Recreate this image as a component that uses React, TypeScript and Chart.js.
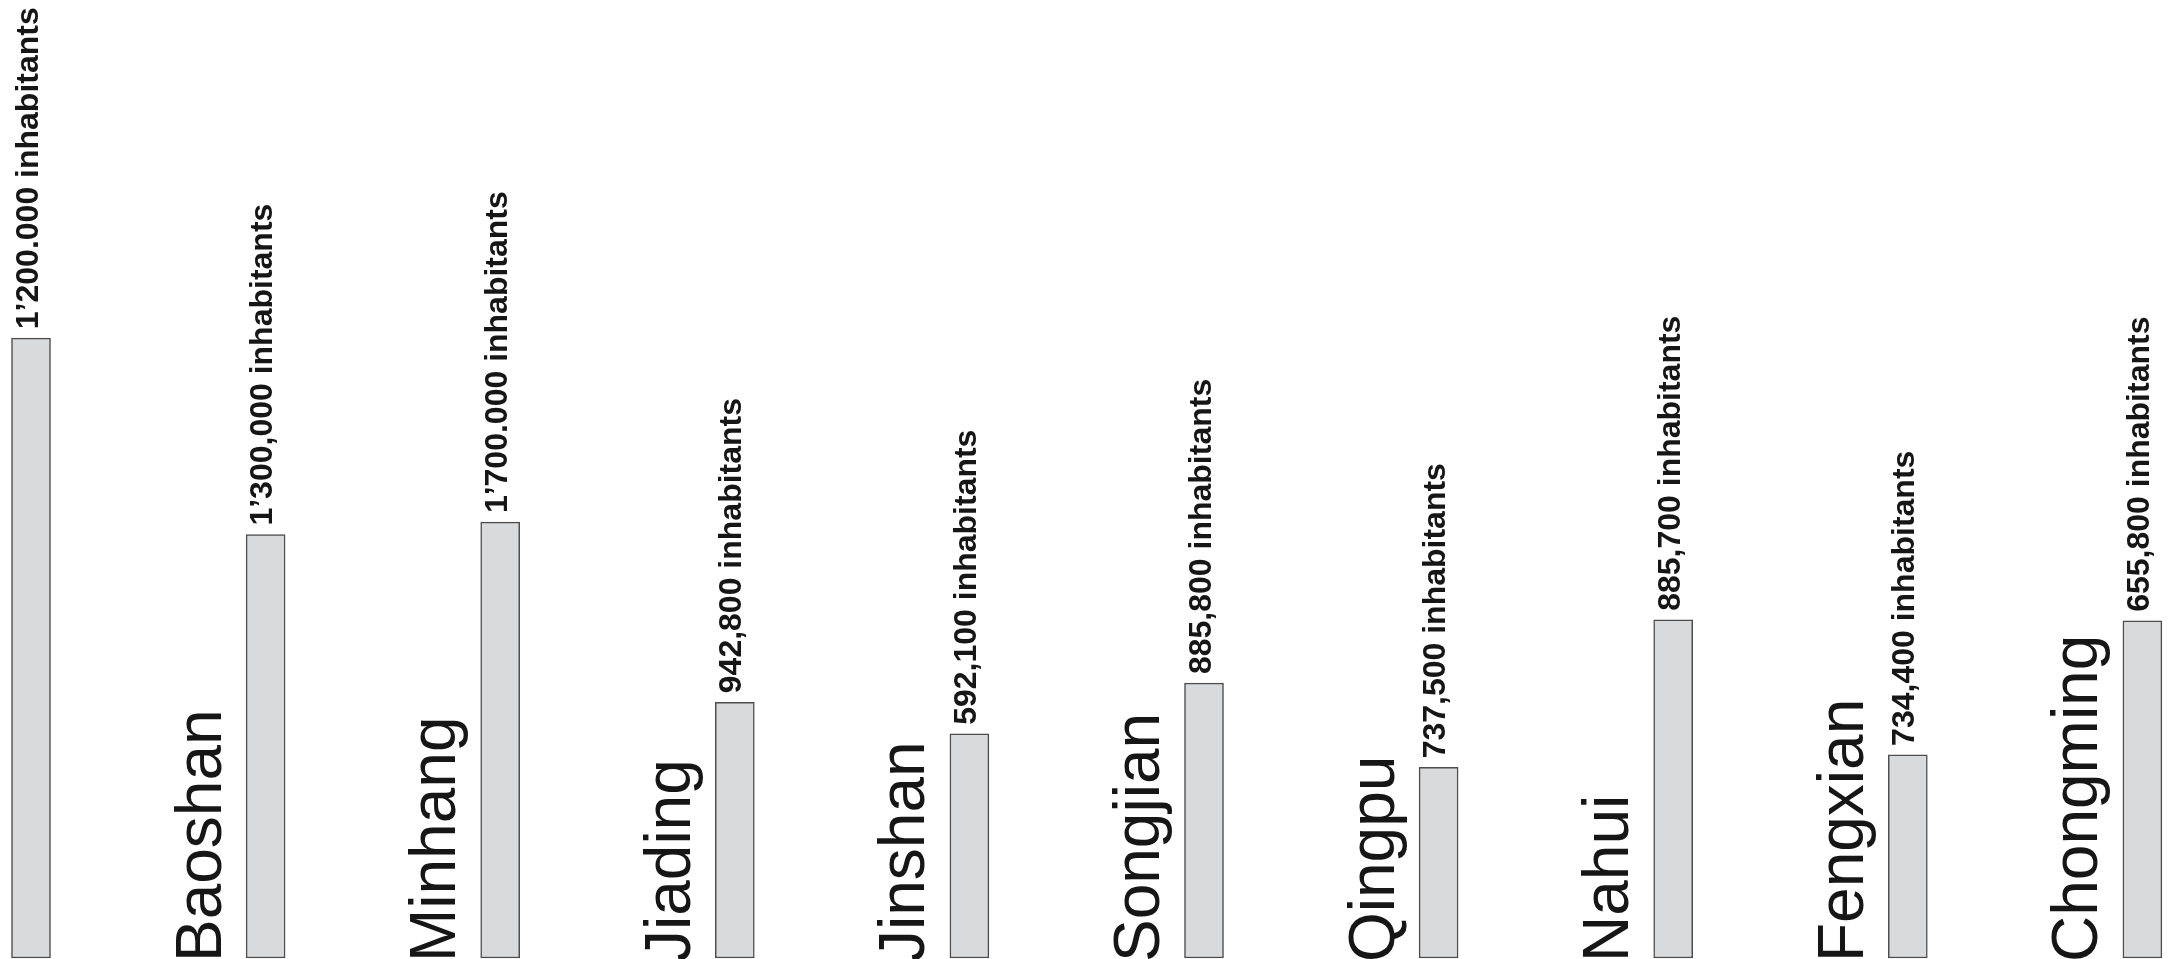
import React, { useEffect, useRef } from "react";
import { Chart, registerables } from "chart.js";

Chart.register(...registerables);

// Category names (the first, central district's name lies outside the picture)
const districts = ["", "Baoshan", "Minhang", "Jiading", "Jinshan", "Songjian", "Qingpu", "Nahui", "Fengxian", "Chongming"];

// Population labels written above each bar
const populationLabels = [
  "1’200.000 inhabitants",
  "1’300,000 inhabitants",
  "1’700.000 inhabitants",
  "942,800 inhabitants",
  "592,100 inhabitants",
  "885,800 inhabitants",
  "737,500 inhabitants",
  "885,700 inhabitants",
  "734,400 inhabitants",
  "655,800 inhabitants",
];

// Relative bar heights (percent of the full picture height)
const barHeights = [64.7, 44.2, 45.5, 26.7, 23.4, 28.7, 19.9, 35.3, 21.2, 35.2];

const labelPlugin = {
  id: "rotatedLabels",
  afterDatasetsDraw(chart: any) {
    const ctx = chart.ctx as CanvasRenderingContext2D;
    const meta = chart.getDatasetMeta(0);
    const xScale = chart.scales.x;
    const bottom = chart.chartArea.bottom;
    ctx.save();
    ctx.fillStyle = "#161616";
    ctx.textAlign = "left";
    ctx.textBaseline = "alphabetic";
    ctx.font = '64px "Liberation Sans", Arial, sans-serif';
    (chart.data.labels as string[]).forEach((lab, i) => {
      if (!lab) return;
      const x = xScale.getPixelForValue(i);
      ctx.save();
      ctx.translate(x - 45, bottom + 4);
      ctx.rotate(-Math.PI / 2);
      ctx.fillText(lab, 0, 0);
      ctx.restore();
    });
    ctx.font = 'bold 32px "Liberation Sans", Arial, sans-serif';
    meta.data.forEach((el: any, i: number) => {
      ctx.save();
      ctx.translate(el.x + 6.5, el.y - 9);
      ctx.rotate(-Math.PI / 2);
      ctx.fillText(populationLabels[i], 0, 0);
      ctx.restore();
    });
    ctx.restore();
  },
};

export default function App() {
  const canvasRef = useRef<HTMLCanvasElement | null>(null);

  useEffect(() => {
    document.body.style.margin = "0";
    document.body.style.overflow = "hidden";
    document.body.style.background = "#ffffff";
    const canvas = canvasRef.current;
    if (!canvas) return;
    const chart = new Chart(canvas, {
      type: "bar",
      data: {
        labels: districts,
        datasets: [
          {
            data: barHeights,
            backgroundColor: "#d9dadc",
            borderColor: "#4d4d4d",
            borderWidth: 1.5,
            borderSkipped: false,
            barThickness: 39,
            clip: false as any,
          },
        ],
      },
      options: {
        responsive: false,
        animation: false,
        layout: { padding: { left: 31, right: 33.6, top: 0, bottom: 1 } },
        plugins: {
          legend: { display: false },
          tooltip: { enabled: false },
        },
        scales: {
          x: { type: "category", display: false, offset: false, grid: { display: false } },
          y: { display: false, min: 0, max: 100 },
        },
      },
      plugins: [labelPlugin],
    });
    return () => chart.destroy();
  }, []);

  return (
    <div style={{ width: 2176, height: 959, background: "#ffffff" }}>
      <canvas ref={canvasRef} width={2176} height={959} style={{ display: "block" }} />
    </div>
  );
}
